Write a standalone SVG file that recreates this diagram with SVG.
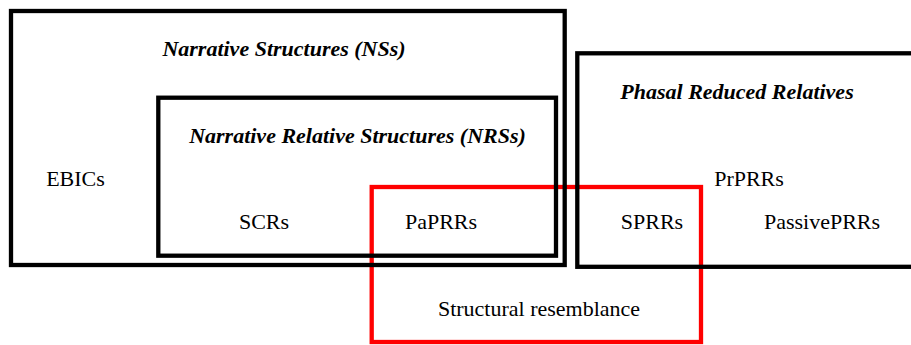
<svg xmlns="http://www.w3.org/2000/svg" width="911" height="345" viewBox="0 0 911 345">
  <style>
    .box { fill: none; stroke: #000000; stroke-width: 4.3; }
    .red { fill: none; stroke: #FF0000; stroke-width: 4.3; }
    text { font-family: "Liberation Serif", "Times New Roman", serif; font-size: 22px; fill: #000000; text-anchor: middle; }
    .title { font-weight: bold; font-style: italic; }
  </style>
  <rect width="911" height="345" fill="#ffffff"/>
  <g id="connectors"></g>
  <g id="structural-resemblance">
    <rect class="red" x="371.7" y="187" width="329.3" height="155"/>
    <text x="539" y="316">Structural resemblance</text>
  </g>
  <g id="narrative-structures">
    <rect class="box" x="11" y="11" width="553.7" height="254"/>
    <text class="title" x="284" y="56">Narrative Structures (NSs)</text>
    <text x="75.5" y="186">EBICs</text>
  </g>
  <g id="narrative-relative-structures">
    <rect class="box" x="158.3" y="97.7" width="397.7" height="158"/>
    <text class="title" x="357.5" y="143">Narrative Relative Structures (NRSs)</text>
    <text x="264" y="229">SCRs</text>
    <text x="441" y="229">PaPRRs</text>
  </g>
  <g id="phasal-reduced-relatives">
    <rect class="box" x="577.3" y="53.3" width="400" height="213.5"/>
    <text class="title" x="737" y="99">Phasal Reduced Relatives</text>
    <text x="749" y="186">PrPRRs</text>
    <text x="652" y="229">SPRRs</text>
    <text x="822" y="229">PassivePRRs</text>
  </g>
</svg>
